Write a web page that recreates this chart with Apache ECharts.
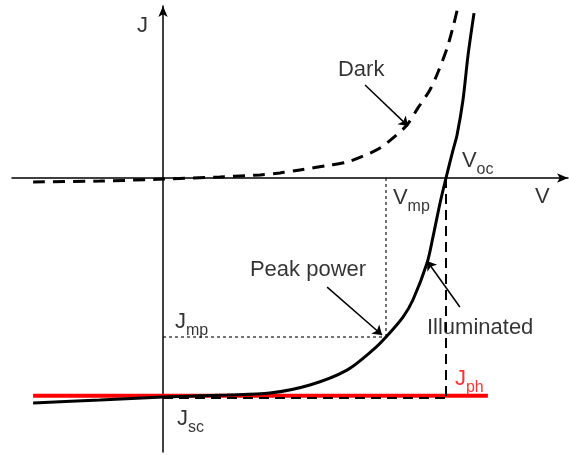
<!DOCTYPE html>
<html>
<head>
<meta charset="utf-8">
<script src="https://cdn.jsdelivr.net/npm/echarts@6/dist/echarts.min.js"></script>
<style>
  html, body { margin: 0; padding: 0; background: #fff; }
  #chart { width: 569px; height: 455px; }
</style>
</head>
<body>
<div id="chart"></div>
<script>
// Solar cell J-V characteristics, normalised: V in units of Voc, J in units of |Jsc|.

// Dark (diode) curve
const darkV = [-0.459, -0.223, 0.000, 0.201, 0.343, 0.413, 0.484, 0.590, 0.650, 0.707, 0.767, 0.813, 0.862, 0.901, 0.943, 0.972, 1.004, 1.025, 1.042];
const darkJ = [-0.018, -0.014, -0.005, 0.005, 0.014, 0.023, 0.037, 0.059, 0.073, 0.100, 0.137, 0.183, 0.242, 0.320, 0.402, 0.484, 0.594, 0.690, 0.780];

// Illuminated curve
const illumV = [-0.459, -0.223, 0.000, 0.226, 0.378, 0.519, 0.650, 0.742, 0.788, 0.848, 0.883, 0.933, 0.954, 0.979, 1.000, 1.025, 1.039, 1.060, 1.078, 1.099];
const illumJ = [-1.027, -1.014, -1.000, -0.991, -0.982, -0.945, -0.877, -0.785, -0.726, -0.635, -0.557, -0.388, -0.269, -0.114, 0.000, 0.128, 0.196, 0.356, 0.562, 0.753];

// Characteristic points
const Voc = 1.0;
const Jsc = -1.005;
const Vmp = 0.788;
const Jmp = -0.726;
const Jph = -0.994;
const jphSpan = [-0.459, 1.148];

// Axis extents
const vRange = [-0.5336, 1.4311];
const jRange = [-1.2511, 0.7854];

// Text annotations: [text key, V, J]
const labelTexts = {
  J: '{m|J}',
  V: '{m|V}',
  Dark: '{m|Dark}',
  Voc: '{m|V}{s|oc}',
  Vmp: '{m|V}{s|mp}',
  Peak: '{m|Peak power}',
  Illum: '{m|Illuminated}',
  Jmp: '{m|J}{s|mp}',
  Jsc: '{m|J}{s|sc}',
  Jph: '{r|J}{rs|ph}'
};
const labelAnchors = [
  ['J', -0.0919, 0.7443],
  ['Dark', 0.6184, 0.5457],
  ['Voc', 1.0565, 0.1301],
  ['V', 1.3145, -0.0342],
  ['Vmp', 0.8127, -0.0388],
  ['Peak', 0.3074, -0.3699],
  ['Illum', 0.9329, -0.6347],
  ['Jmp', 0.0424, -0.6073],
  ['Jsc', 0.0495, -1.0479],
  ['Jph', 1.0318, -0.8653]
];

// Pointer arrows: [tail, head]
const pointers = [
  [[0.714, 0.425], [0.866, 0.237]],
  [[0.580, -0.498], [0.774, -0.717]],
  [[1.049, -0.589], [0.933, -0.379]]
];

const zip = (a, b) => a.map((v, i) => [v, b[i]]);
const FONT = '"Liberation Sans", Arial, sans-serif';
const rich = {
  m: { fontSize: 22, lineHeight: 21, verticalAlign: 'top', color: '#000', fontFamily: FONT },
  s: { fontSize: 16, lineHeight: 28, verticalAlign: 'bottom', color: '#000', fontFamily: FONT },
  r: { fontSize: 22, lineHeight: 21, verticalAlign: 'top', color: '#ff0000', fontFamily: FONT },
  rs: { fontSize: 16, lineHeight: 28, verticalAlign: 'bottom', color: '#ff0000', fontFamily: FONT }
};

const chart = echarts.init(document.getElementById('chart'), null, { renderer: 'canvas' });
chart.setOption({
  animation: false,
  backgroundColor: '#ffffff',
  grid: { left: 12, right: 1, top: 6, bottom: 3 },
  xAxis: {
    type: 'value', min: vRange[0], max: vRange[1],
    axisLine: { onZero: true, symbol: ['none', 'arrow'], symbolSize: [7, 11], lineStyle: { color: '#000', width: 1.5 } },
    axisTick: { show: false }, axisLabel: { show: false }, splitLine: { show: false }
  },
  yAxis: {
    type: 'value', min: jRange[0], max: jRange[1],
    axisLine: { onZero: true, symbol: ['none', 'arrow'], symbolSize: [7, 11], lineStyle: { color: '#000', width: 1.5 } },
    axisTick: { show: false }, axisLabel: { show: false }, splitLine: { show: false }
  },
  series: [
    {
      name: 'Jph', type: 'line', symbol: 'none',
      data: [[jphSpan[0], Jph], [jphSpan[1], Jph]],
      lineStyle: { color: '#ff0000', width: 4 }
    },
    {
      name: 'Jsc level', type: 'line', symbol: 'none',
      data: [[0, Jsc], [Voc, Jsc]],
      lineStyle: { color: '#000', width: 2, type: [10, 6] }
    },
    {
      name: 'Voc drop', type: 'line', symbol: 'none',
      data: [[Voc, 0], [Voc, Jsc]],
      lineStyle: { color: '#000', width: 2, type: [10, 6] }
    },
    {
      name: 'Vmp guide', type: 'line', symbol: 'none',
      data: [[Vmp, 0], [Vmp, Jmp]],
      lineStyle: { color: '#000', width: 1.1, type: [3, 3] }
    },
    {
      name: 'Jmp guide', type: 'line', symbol: 'none',
      data: [[0, Jmp], [Vmp, Jmp]],
      lineStyle: { color: '#000', width: 1.1, type: [3, 3] }
    },
    {
      name: 'Dark', type: 'line', symbol: 'none', smooth: 0.3,
      data: zip(darkV, darkJ),
      lineStyle: { color: '#000', width: 3, type: [12, 8] }
    },
    {
      name: 'Illuminated', type: 'line', symbol: 'none', smooth: 0.3,
      data: zip(illumV, illumJ),
      lineStyle: { color: '#000', width: 3 }
    },
    {
      name: 'pointers', type: 'lines', coordinateSystem: 'cartesian2d',
      symbol: ['none', 'arrow'], symbolSize: 9,
      lineStyle: { color: '#000', width: 1.5, opacity: 1 },
      data: pointers.map(p => ({ coords: p }))
    },
    {
      name: 'labels', type: 'scatter', symbolSize: 0.1,
      itemStyle: { color: 'rgba(0,0,0,0)' },
      label: { show: true, position: [0, 0], align: 'left', verticalAlign: 'top', rich: rich },
      data: labelAnchors.map(a => ({
        value: [a[1], a[2]],
        label: { formatter: labelTexts[a[0]] }
      }))
    }
  ]
});
</script>
</body>
</html>
